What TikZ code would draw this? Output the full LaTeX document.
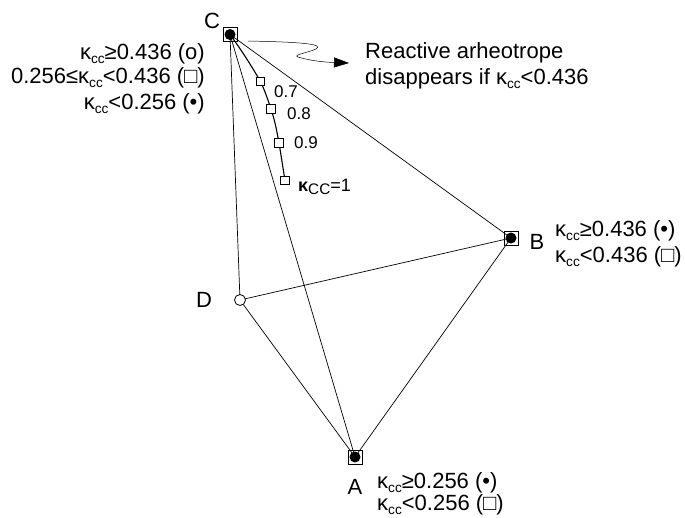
\documentclass[tikz,border=0pt]{standalone}
\usepackage{fontspec}
\setmainfont{Liberation Sans}
\usetikzlibrary{arrows.meta}
\newcommand{\kc}{κ\raisebox{-0.3ex}{\scalebox{0.62}{cc}}}
\newcommand{\bigf}{\fontsize{22pt}{24pt}\selectfont}
\newcommand{\midf}{\fontsize{17pt}{19pt}\selectfont}
\tikzset{
  lbl/.style={font=\bigf,inner sep=0pt},
  num/.style={font=\midf,anchor=west,inner sep=0pt},
  vtx/.style={draw,line width=0.9pt,minimum size=14pt,inner sep=0pt,
    path picture={\fill[black] (path picture bounding box.center) circle (5.5pt);}},
  opn/.style={draw,circle,fill=white,minimum size=11pt,inner sep=0pt,line width=0.8pt},
  sq/.style={draw,fill=white,minimum size=8.5pt,inner sep=0pt,line width=0.6pt},
  edge/.style={line width=0.7pt}}
\begin{document}
\begin{tikzpicture}[x=1pt,y=-1pt]
\useasboundingbox (0,0) rectangle (685,517);
\coordinate (c) at (230,34.5);
\coordinate (b) at (511,238);
\coordinate (a) at (355,457);
\coordinate (d) at (240,300);
\draw[edge] (c) -- (b) (c) -- (d) (c) -- (a) (d) -- (b) (d) -- (a) (a) -- (b);
\draw[line width=1.1pt] (c) .. controls (245,55) and (255,72) .. (260.5,81.5)
  .. controls (265,91) and (268,100) .. (271,109)
  .. controls (275,121) and (277,132) .. (279,143)
  .. controls (281,155) and (283,168) .. (285,180.5);
\node[vtx] (C) at (c) {};
\node[vtx] (B) at (b) {};
\node[vtx] (A) at (a) {};
\node[opn] (D) at (d) {};
\node[sq] (s7) at (260.5,81.5) {};
\node[sq] (s8) at (271,109) {};
\node[sq] (s9) at (279,143) {};
\node[sq] (s1) at (285,180.5) {};
\node[num] (l7) at (274,91.5) {0.7};
\node[num] (l8) at (287,114) {0.8};
\node[num] (l9) at (294,142.5) {0.9};
\node[num] (l1) at (298,187) {\fontsize{18pt}{20pt}\selectfont\textbf{κ}\raisebox{-0.35ex}{\scalebox{0.85}{CC}}=1};
\coordinate (w0) at (248,41);
\coordinate (w1) at (349,63);
\draw[line width=0.5pt,-{Triangle[length=15pt,width=10pt]}] (w0) .. controls (300,42) and (325,44) .. (316,49)
  .. controls (307,53) and (292,55) .. (298,57) .. controls (308,60) and (320,62) .. (w1);
\node[lbl,anchor=west] (rt1) at (365,53) {Reactive arheotrope};
\node[lbl,anchor=west] (rt2) at (365,79) {disappears if \kc<0.436};
\node[lbl] (Cl) at (212,21) {C};
\node[lbl] (Bl) at (537,242) {B};
\node[lbl] (Dl) at (204,300) {D};
\node[lbl] (Al) at (355,487) {A};
\node[lbl,anchor=east] (c1) at (205,54) {\kc≥0.436 (ο)};
\node[lbl,anchor=east] (c2) at (205,78) {0.256≤\kc<0.436 (□)};
\node[lbl,anchor=east] (c3) at (205,104) {\kc<0.256 (•)};
\node[lbl,anchor=west] (b1) at (555,231) {\kc≥0.436 (•)};
\node[lbl,anchor=west] (b2) at (555,257) {\kc<0.436 (□)};
\node[lbl,anchor=west] (a1) at (377,483) {\kc≥0.256 (•)};
\node[lbl,anchor=west] (a2) at (377,505) {\kc<0.256 (□)};
\end{tikzpicture}
\end{document}
